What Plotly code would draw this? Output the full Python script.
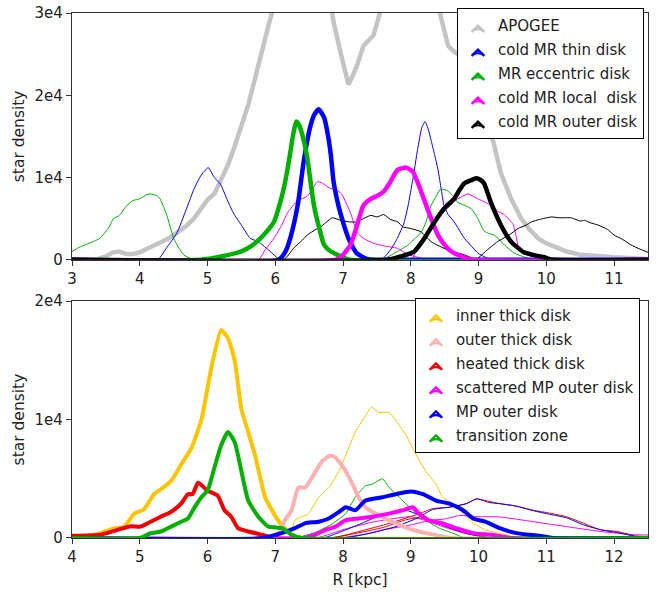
import plotly.graph_objects as go

# ---------------- TOP PANEL DATA (R [kpc], star density) ----------------
apogee_x = [3.0, 3.35, 3.5, 3.6, 3.7, 3.8, 3.9, 4.0, 4.1, 4.2, 4.3, 4.4, 4.5, 4.6, 4.7, 4.8, 4.9, 5.0,
            5.1, 5.2, 5.3, 5.4, 5.5, 5.6, 5.7, 5.8, 5.9, 6.0, 6.4, 6.8, 6.86, 6.96, 7.08, 7.15, 7.21,
            7.3, 7.45, 7.56, 8.0, 8.4, 8.55, 8.64, 8.79, 8.93, 9.1, 9.21, 9.33, 9.48, 9.63, 9.75,
            9.88, 10.0, 10.17, 10.3, 10.51, 10.75, 11.0, 11.5]
apogee_y = [0, 0, 400, 900, 1000, 700, 700, 900, 1300, 1700, 2000, 2500, 3000, 3600, 4200, 5000, 6200, 7300,
            8000, 9800, 11500, 13800, 16300, 18800, 22000, 25500, 28500, 31500, 42000, 32000, 28900, 25300, 21300, 22500, 23700,
            26000, 27300, 30500, 38000, 31000, 26000, 25300, 24500, 20500, 16500, 14600, 10500, 7400, 5000, 3700,
            2600, 2000, 1400, 1000, 600, 400, 300, 100]

thin_x = [3.0, 6.05, 6.15, 6.22, 6.33, 6.42, 6.52, 6.58, 6.64, 6.72, 6.78, 6.82, 6.86, 6.92, 6.96, 7.08, 7.2, 7.35, 7.5, 11.5]
thin_y = [0, 0, 1000, 2600, 6600, 12000, 16300, 17700, 18300, 17300, 15000, 12700, 9500, 7000, 5700, 2600, 800, 100, 0, 0]

ecc_x = [3.0, 4.9, 5.2, 5.49, 5.65, 5.78, 5.9, 5.98, 6.05, 6.12, 6.18, 6.22, 6.27, 6.31, 6.36, 6.42, 6.47,
         6.52, 6.57, 6.65, 6.72, 6.82, 6.92, 7.1, 11.5]
ecc_y = [0, 0, 400, 1000, 1700, 2600, 3700, 4600, 6300, 8500, 11000, 13000, 15500, 16800, 16200, 14500, 12500,
         9500, 6600, 3800, 1800, 1000, 600, 0, 0]

local_x = [3.0, 6.9, 7.0, 7.11, 7.2, 7.3, 7.41, 7.51, 7.6, 7.7, 7.8, 7.93, 8.03, 8.12, 8.2, 8.3, 8.4, 8.5, 8.6, 8.75, 8.9, 11.5]
local_y = [0, 0, 600, 1800, 4000, 6600, 7400, 7800, 8300, 9500, 10900, 11200, 10700, 9000, 7200, 5000, 3000, 1800, 1000, 400, 0, 0]

outer_x = [3.0, 7.66, 7.85, 8.05, 8.2, 8.35, 8.49, 8.64, 8.72, 8.79, 8.9, 8.96, 9.03, 9.08, 9.18, 9.33, 9.48,
           9.67, 9.85, 9.97, 10.1, 11.5]
outer_y = [0, 0, 400, 1000, 2600, 4600, 6200, 7400, 8500, 9300, 9700, 9900, 9700, 9300, 7000, 4200, 2200,
           900, 500, 300, 0, 0]

# thin companion curves (top panel)
green_a_x = [3.0, 3.1, 3.22, 3.41, 3.55, 3.61, 3.7, 3.81, 3.9, 4.0, 4.1, 4.15, 4.25, 4.3, 4.4, 4.5, 4.58, 4.65, 4.75, 4.85, 11.5]
green_a_y = [1000, 1500, 1900, 2600, 4000, 5000, 5400, 6600, 7200, 7400, 7900, 8000, 7800, 7400, 5400, 2600, 1400, 600, 150, 0, 0]
blue_a_x = [3.0, 4.26, 4.4, 4.55, 4.68, 4.8, 4.9, 5.01, 5.1, 5.19, 5.28, 5.38, 5.5, 5.63, 5.72, 5.78, 5.9, 5.98, 6.07, 11.5]
blue_a_y = [0, 0, 1500, 3300, 6000, 8600, 10200, 11200, 10000, 9200, 7500, 5700, 4200, 2600, 2300, 2000, 1200, 600, 0, 0]
magenta_a_x = [3.0, 5.75, 5.85, 5.98, 6.1, 6.18, 6.33, 6.47, 6.55, 6.62, 6.7, 6.8, 6.9, 6.98, 7.05, 7.11, 7.21,
               7.3, 7.45, 7.6, 7.8, 7.95, 8.1, 8.25, 11.5]
magenta_a_y = [0, 0, 1200, 2600, 4300, 5700, 7200, 7700, 8600, 9500, 9300, 8700, 8500, 8000, 6800, 5700, 3300,
               2600, 2000, 1700, 1400, 700, 300, 0, 0]
black_a_x = [3.0, 6.12, 6.27, 6.4, 6.47, 6.6, 6.67, 6.84, 6.96, 7.1, 7.2, 7.3, 7.41, 7.5, 7.6, 7.7, 7.81, 7.88,
             8.0, 8.15, 8.3, 8.54, 8.79, 8.98, 11.5]
black_a_y = [0, 0, 1400, 2400, 3000, 3700, 4000, 5100, 4800, 4600, 4600, 5000, 5400, 5200, 5500, 4900, 4600, 4000,
             3800, 3400, 2200, 1200, 600, 0, 0]
blue_b_x = [3.0, 7.56, 7.7, 7.8, 7.9, 7.96, 8.03, 8.1, 8.16, 8.21, 8.26, 8.3, 8.35, 8.4, 8.45, 8.49, 8.55, 8.64,
            8.79, 8.9, 8.99, 9.1, 9.2, 11.5]
blue_b_y = [0, 0, 1200, 2600, 4500, 6600, 9800, 13400, 16000, 16800, 15800, 14500, 12800, 11000, 8500, 6600, 5500, 4600,
            2600, 1600, 800, 300, 0, 0]
green_b_x = [3.0, 7.56, 7.8, 7.96, 8.05, 8.15, 8.22, 8.3, 8.38, 8.44, 8.54, 8.62, 8.69, 8.8, 8.89, 8.99, 9.08,
             9.15, 9.23, 9.3, 9.38, 9.53, 9.65, 9.8, 11.5]
green_b_y = [0, 0, 1000, 1800, 2500, 3300, 4500, 6600, 7800, 8600, 8400, 7800, 7000, 6600, 6200, 5000, 3500,
             3200, 3000, 2500, 1800, 800, 400, 0, 0]
magenta_b_x = [3.0, 8.0, 8.1, 8.2, 8.35, 8.45, 8.54, 8.69, 8.84, 8.99, 9.1, 9.18, 9.3, 9.38, 9.46, 9.51, 9.55,
               9.6, 9.7, 9.8, 10.0, 10.4, 11.5]
magenta_b_y = [0, 0, 1500, 2400, 4800, 6000, 7000, 7400, 8000, 7400, 7000, 6600, 5800, 5500, 4800, 4300, 3000,
               1200, 600, 400, 200, 0, 0]
black_b_x = [3.0, 8.95, 9.1, 9.28, 9.45, 9.58, 9.7, 9.78, 9.9, 10.07, 10.2, 10.37, 10.5, 10.56, 10.65, 10.77,
             10.9, 11.0, 11.12, 11.25, 11.38, 11.5]
black_b_y = [0, 0, 1000, 2200, 3000, 3800, 4200, 4600, 4900, 5200, 5100, 5100, 4700, 4800, 4500, 4200,
             3700, 3000, 2500, 1800, 1300, 900]

# ---------------- BOTTOM PANEL DATA ----------------
inner_x = [4.0, 4.22, 4.42, 4.62, 4.77, 4.92, 5.06, 5.21, 5.31, 5.46, 5.61, 5.76, 5.91, 6.05, 6.2, 6.3, 6.4,
           6.5, 6.6, 6.7, 6.85, 6.95, 7.04, 7.14, 7.24, 7.4, 12.5]
inner_y = [0, 140, 400, 800, 960, 2060, 2400, 3700, 4100, 4800, 6200, 7560, 10000, 14200, 17550, 16900, 15000,
           10860, 8940, 7000, 3440, 2340, 1500, 830, 275, 0, 0]
outerthick_x = [4.0, 7.0, 7.14, 7.24, 7.34, 7.44, 7.54, 7.69, 7.79, 7.86, 7.94, 8.04, 8.14, 8.23, 8.33, 8.48,
                8.68, 8.83, 9.03, 9.22, 9.42, 9.6, 12.5]
outerthick_y = [0, 0, 1500, 2340, 4260, 4260, 5100, 6460, 6900, 6900, 6460, 5640, 4540, 3440, 2600, 2060,
                1500, 1100, 690, 410, 190, 0, 0]
heated_x = [4.0, 4.42, 4.67, 4.87, 5.01, 5.16, 5.31, 5.46, 5.61, 5.71, 5.78, 5.86, 6.0, 6.15, 6.25, 6.35, 6.45,
            6.6, 6.8, 7.0, 12.5]
heated_y = [190, 275, 690, 1000, 960, 1375, 1800, 2200, 2900, 3700, 3700, 4670, 4000, 3575, 2340, 1800, 830,
            550, 275, 0, 0]
scattered_x = [4.0, 7.4, 7.59, 7.74, 7.89, 8.04, 8.23, 8.43, 8.68, 8.88, 9.03, 9.12, 9.27, 9.47, 9.67, 9.92,
               10.2, 10.5, 12.5]
scattered_y = [0, 0, 275, 690, 960, 1500, 1650, 1800, 2060, 2340, 2600, 2060, 1500, 1240, 830, 410,
               275, 0, 0]
mpouter_x = [4.0, 6.8, 7.09, 7.29, 7.44, 7.64, 7.79, 7.94, 8.04, 8.18, 8.33, 8.58, 8.78, 9.0, 9.18, 9.37, 9.57,
             9.77, 9.92, 10.1, 10.31, 10.56, 10.9, 11.1, 12.5]
mpouter_y = [0, 0, 410, 830, 1240, 1375, 1650, 2200, 2600, 2340, 3160, 3440, 3700, 3930, 3700, 3160, 2900,
             2340, 1650, 1375, 830, 410, 190, 0, 0]
transition_x = [4.0, 5.0, 5.16, 5.31, 5.46, 5.61, 5.71, 5.81, 5.91, 6.0, 6.1, 6.2, 6.3, 6.4, 6.5, 6.6, 6.75,
                6.9, 7.1, 7.24, 7.4, 12.5]
transition_y = [0, 0, 400, 550, 960, 1375, 1650, 2600, 3440, 4000, 5900, 7800, 8940, 8100, 5640, 3160, 1800,
                960, 830, 275, 0, 0]

# thin companion curves (bottom panel)
yellow_t_x = [4.0, 7.2, 7.29, 7.49, 7.64, 7.79, 7.94, 8.04, 8.18, 8.33, 8.42, 8.53, 8.68, 8.83, 8.93, 9.08,
              9.22, 9.37, 9.47, 9.62, 9.77, 9.92, 10.1, 10.4, 10.6, 12.5]
yellow_t_y = [0, 0, 1500, 2060, 3440, 4260, 5640, 7000, 8940, 10300, 11050, 10600, 10600, 9490, 8660, 7000,
              5640, 4540, 3440, 2900, 2060, 1240, 690, 275, 0, 0]
green_t_x = [4.0, 7.3, 7.6, 7.84, 8.04, 8.18, 8.33, 8.43, 8.58, 8.68, 8.83, 9.03, 9.22, 9.42, 9.62, 9.8, 12.5]
green_t_y = [0, 0, 500, 1200, 2060, 3440, 4400, 4540, 5000, 4260, 3440, 2340, 1500, 830, 410, 0, 0]
red_t1_x = [4.0, 7.8, 8.0, 8.33, 8.6, 8.83, 9.1, 9.32, 9.57, 9.82, 9.97, 10.15, 10.31, 10.55, 10.81, 11.05,
            11.3, 11.55, 11.8, 12.05, 12.3, 12.5]
red_t1_y = [0, 0, 200, 690, 1100, 1500, 2000, 2475, 2600, 2900, 3300, 3100, 2900, 2700, 2340, 2100,
            1790, 1240, 690, 550, 190, 100]
blue_t1_x = [4.0, 8.0, 8.4, 8.8, 9.1, 9.32, 9.57, 9.82, 9.97, 10.15, 10.31, 10.55, 10.81, 11.05, 11.3, 11.55,
             11.8, 12.05, 12.3, 12.4, 12.5]
blue_t1_y = [0, 0, 400, 1000, 1700, 2400, 2600, 2900, 3300, 3000, 2900, 2700, 2300, 2000, 1700, 1100,
             700, 450, 150, 0, 0]
magenta_t1_x = [4.0, 7.9, 8.3, 8.6, 9.0, 9.3, 9.5, 9.72, 10.0, 10.31, 10.81, 11.3, 11.8, 12.3, 12.5]
magenta_t1_y = [0, 0, 300, 700, 1100, 1500, 1600, 1900, 1800, 1780, 1375, 960, 550, 275, 250]
magenta_t2_x = [4.0, 7.6, 8.0, 8.4, 8.7, 9.0, 9.2, 9.5, 9.8, 10.2, 12.5]
magenta_t2_y = [0, 0, 700, 1300, 1600, 1800, 1500, 900, 400, 0, 0]
blue_t2_x = [4.0, 7.7, 8.0, 8.3, 8.5, 8.73, 8.93, 9.1, 9.3, 9.6, 9.9, 10.2, 12.5]
blue_t2_y = [0, 0, 600, 1300, 1800, 2200, 2340, 2000, 1500, 800, 300, 0, 0]
red_t2_x = [4.0, 7.8, 8.2, 8.6, 8.9, 9.1, 9.3, 9.5, 9.8, 10.2, 12.5]
red_t2_y = [0, 0, 400, 900, 1500, 1700, 1500, 1000, 400, 0, 0]

# ---------------- LABELS / TICKS ----------------
top_names = ["APOGEE", "cold MR thin disk", "MR eccentric disk", "cold MR local  disk", "cold MR outer disk"]
bottom_names = ["inner thick disk", "outer thick disk", "heated thick disk", "scattered MP outer disk",
                "MP outer disk", "transition zone"]
top_yticks = [0, 10000, 20000, 30000]
top_yticktext = ["0", "1e4", "2e4", "3e4"]
bot_yticks = [0, 10000, 20000]
bot_yticktext = ["0", "1e4", "2e4"]
top_xticks = [3, 4, 5, 6, 7, 8, 9, 10, 11]
bot_xticks = [4, 5, 6, 7, 8, 9, 10, 11, 12]

GRAY, BLUE, GREEN, MAG, BLACK = "#c4c4c4", "#0000ff", "#00b000", "#ff00ff", "#000000"
GOLD, PINK, RED = "#ffc400", "#ffb0b0", "#f00000"
FONT = "DejaVu Sans"

fig = go.Figure()

def line(x, y, color, width, xa, ya, name, shape="spline"):
    fig.add_trace(go.Scatter(x=x, y=y, mode="lines",
                             line=dict(color=color, width=width, shape=shape, smoothing=0.5),
                             xaxis=xa, yaxis=ya, name=name, showlegend=False, hoverinfo="skip"))

def leg(name, color, xa, ya, legend):
    fig.add_trace(go.Scatter(x=[None], y=[None], mode="markers", name=name, legend=legend,
                             legendgroup=name, xaxis=xa, yaxis=ya,
                             marker=dict(symbol="arrow-wide-open", size=9, color=color,
                                         line=dict(color=color, width=2.2))))

# top panel: APOGEE, thin curves, thick curves
line(apogee_x, apogee_y, GRAY, 4.5, "x", "y", top_names[0], shape="linear")
line(green_a_x, green_a_y, GREEN, 1, "x", "y", "thin")
line(blue_a_x, blue_a_y, BLUE, 1, "x", "y", "thin")
line(magenta_a_x, magenta_a_y, MAG, 1, "x", "y", "thin")
line(black_a_x, black_a_y, BLACK, 1, "x", "y", "thin")
line(blue_b_x, blue_b_y, BLUE, 1, "x", "y", "thin")
line(green_b_x, green_b_y, GREEN, 1, "x", "y", "thin")
line(magenta_b_x, magenta_b_y, MAG, 1, "x", "y", "thin")
line(black_b_x, black_b_y, BLACK, 1, "x", "y", "thin")
line(thin_x, thin_y, BLUE, 4.5, "x", "y", top_names[1])
line(ecc_x, ecc_y, GREEN, 4.5, "x", "y", top_names[2])
line(local_x, local_y, MAG, 4.5, "x", "y", top_names[3])
line(outer_x, outer_y, BLACK, 4.5, "x", "y", top_names[4])

# bottom panel
line(yellow_t_x, yellow_t_y, GOLD, 1, "x2", "y2", "thin")
line(green_t_x, green_t_y, GREEN, 1, "x2", "y2", "thin")
line(magenta_t1_x, magenta_t1_y, MAG, 1, "x2", "y2", "thin")
line(magenta_t2_x, magenta_t2_y, MAG, 1, "x2", "y2", "thin")
line(red_t2_x, red_t2_y, RED, 1, "x2", "y2", "thin")
line(blue_t2_x, blue_t2_y, BLUE, 1, "x2", "y2", "thin")
line(red_t1_x, red_t1_y, RED, 1, "x2", "y2", "thin")
line(blue_t1_x, blue_t1_y, BLUE, 1, "x2", "y2", "thin")
line(inner_x, inner_y, GOLD, 4, "x2", "y2", bottom_names[0])
line(outerthick_x, outerthick_y, PINK, 4, "x2", "y2", bottom_names[1])
line(heated_x, heated_y, RED, 4, "x2", "y2", bottom_names[2])
line(scattered_x, scattered_y, MAG, 4, "x2", "y2", bottom_names[3])
line(mpouter_x, mpouter_y, BLUE, 4, "x2", "y2", bottom_names[4])
line(transition_x, transition_y, GREEN, 4, "x2", "y2", bottom_names[5])

for n, c in zip(top_names, [GRAY, BLUE, GREEN, MAG, BLACK]):
    leg(n, c, "x", "y", "legend")
for n, c in zip(bottom_names, [GOLD, PINK, RED, MAG, BLUE, GREEN]):
    leg(n, c, "x2", "y2", "legend2")

axis_common = dict(showline=True, linecolor="#333333", linewidth=1.3, mirror=True, ticks="outside",
                   ticklen=5, tickwidth=1.2, tickcolor="#333333", showgrid=False, zeroline=False,
                   tickfont=dict(family=FONT, size=15, color="#222222"))

legend_common = dict(bgcolor="white", bordercolor="black", borderwidth=1, tracegroupgap=1.5,
                     font=dict(family=FONT, size=15, color="#222222"), xanchor="right", yanchor="top",
                     itemclick=False, itemdoubleclick=False)

fig.update_layout(
    width=668, height=595, margin=dict(l=72, r=20, t=4, b=57),
    paper_bgcolor="white", plot_bgcolor="white",
    font=dict(family=FONT, size=15, color="#222222"),
    xaxis=dict(domain=[0, 1], range=[3, 11.5], tickvals=top_xticks, anchor="y", **axis_common),
    yaxis=dict(domain=[0.530, 1], range=[0, 30000], tickvals=top_yticks, ticktext=top_yticktext,
               anchor="x", title=dict(text="star density", standoff=6, font=dict(size=15.5)), **axis_common),
    xaxis2=dict(domain=[0, 1], range=[4, 12.5], tickvals=bot_xticks, anchor="y2",
                title=dict(text="R [kpc]", standoff=8, font=dict(size=15.5)), **axis_common),
    yaxis2=dict(domain=[0, 0.4513], range=[0, 20000], tickvals=bot_yticks, ticktext=bot_yticktext,
                anchor="x2", title=dict(text="star density", standoff=6, font=dict(size=15.5)), **axis_common),
    legend=dict(x=0.993, y=1.009, **legend_common),
    legend2=dict(x=0.986, y=0.457, **legend_common),
    showlegend=True,
)

fig.write_html("out.html")
